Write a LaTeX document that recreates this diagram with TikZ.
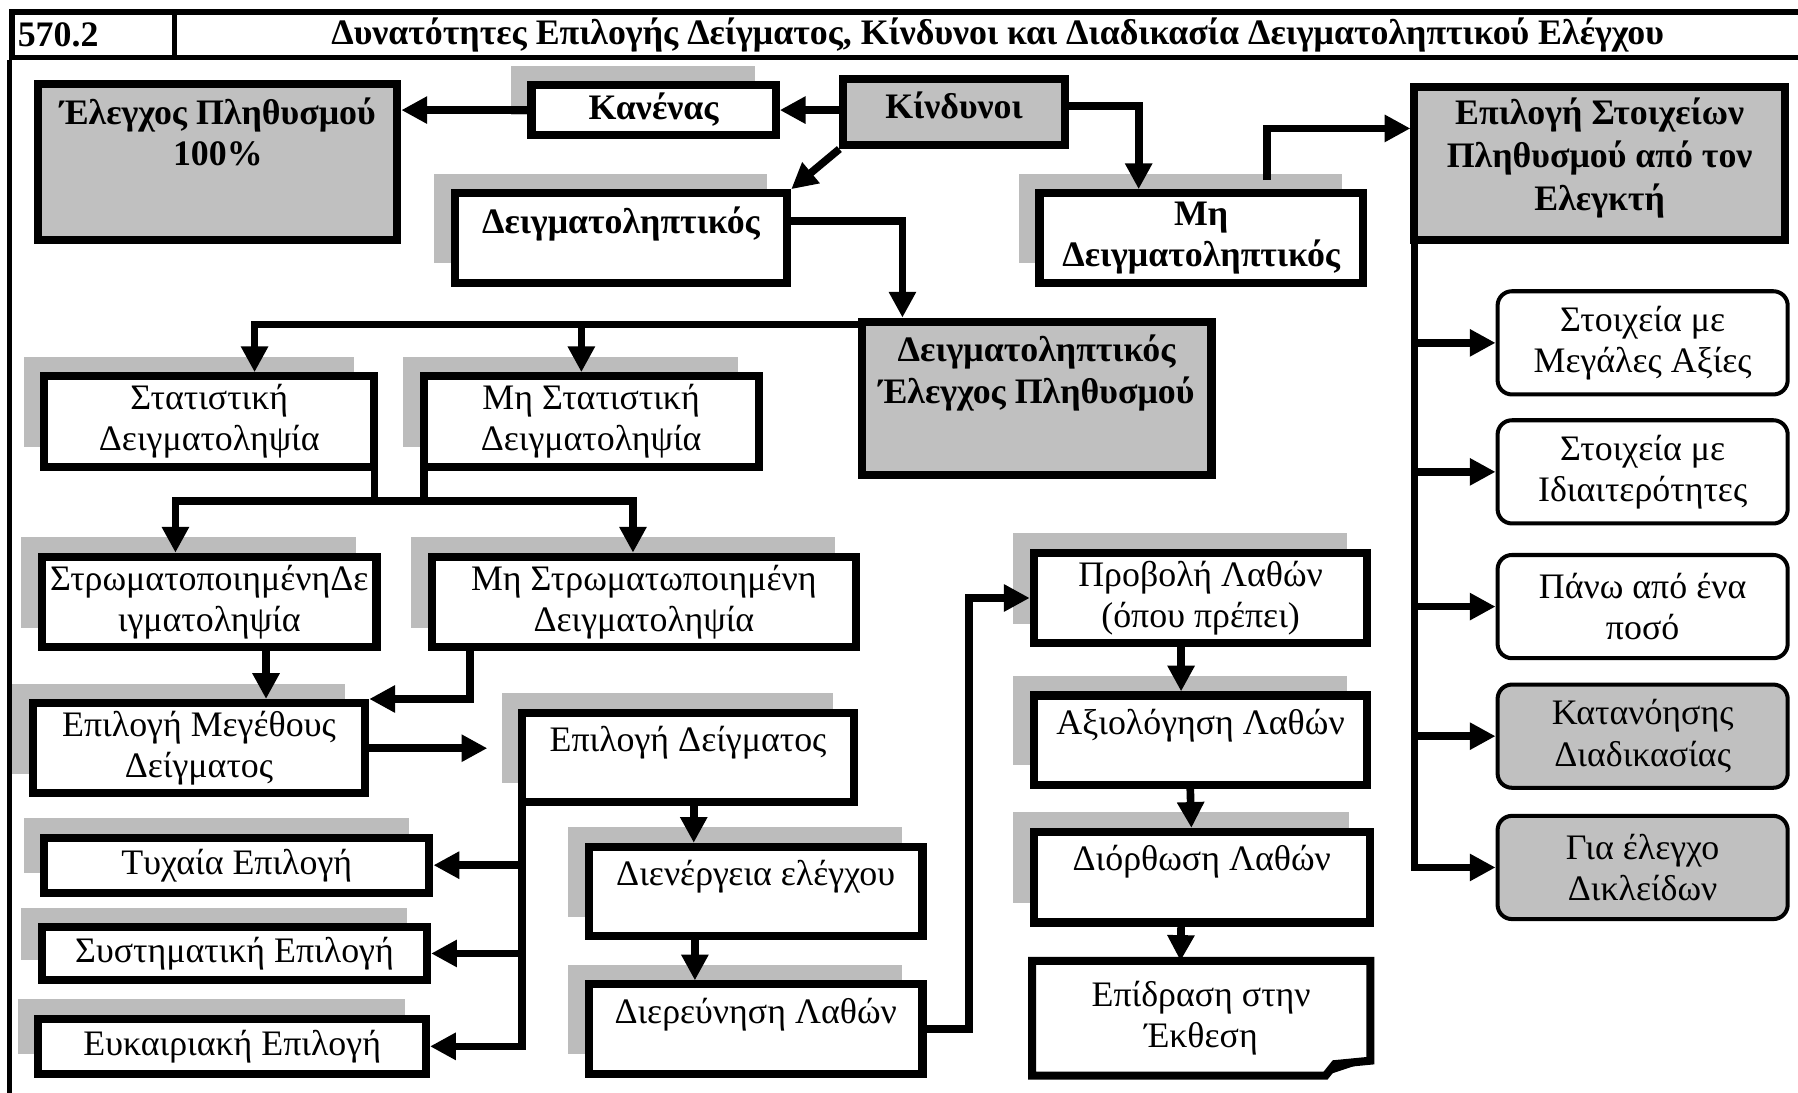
\documentclass[tikz,border=0pt]{standalone}
\usepackage{fontspec}
\setmainfont{Liberation Serif}
\usetikzlibrary{arrows.meta,calc,positioning,shadows}
\definecolor{figFill}{RGB}{192,192,192}
\definecolor{figShade}{RGB}{188,188,188}
\newcommand{\figfont}{\fontsize{17.8}{20.5}\selectfont}

\begin{document}
\begin{tikzpicture}[
  font=\figfont,
  cell/.style={draw=black,line width=2.7pt,inner sep=0pt,font=\fontsize{17.8}{20}\selectfont\bfseries},
  box/.style={draw=black,line width=4pt,fill=white,align=center,inner sep=4pt},
  shadowbox/.style={box,drop shadow={shadow xshift=-0.36cm,shadow yshift=0.34cm,fill=figShade,opacity=1}},
  greybox/.style={box,fill=figFill},
  boldtext/.style={font=\figfont\bfseries},
  lbl/.style={anchor=north,align=center,inner sep=0pt,yshift=-0.3cm},
  toplbl/.style={label={[lbl]north:#1}},
  boldlbl/.style={label={[lbl,font=\figfont\bfseries]north:#1}},
  roundbox/.style={draw=black,line width=2pt,rounded corners=0.25cm,fill=white,align=center,minimum width=5.06cm,minimum height=1.80cm},
  docbox/.style={align=center,outer sep=0pt,inner sep=4pt},
  boxline/.style={draw=black,line width=4pt,line join=miter},
  arrow/.style={-{Triangle[length=0.45cm,width=0.45cm]},line width=3.8pt},
  bus/.style={line width=3.8pt},
  frame/.style={line width=2.7pt}
]
\useasboundingbox (0,0) rectangle (31.36,-19.06);
\clip (0,0) rectangle (31.36,-19.06);

% header
\node[cell,minimum width=2.83cm,minimum height=0.79cm,text width=2.63cm,align=left,inner xsep=0.1cm] (code) at (1.625,-0.605) {570.2};
\node[cell,minimum width=28.72cm,minimum height=0.79cm] (title) at (17.40,-0.605) {Δυνατότητες Επιλογής Δείγματος, Κίνδυνοι και Διαδικασία Δειγματοληπτικού Ελέγχου};
\coordinate (framefoot) at (0.21,-19.3);
\draw[frame] (code.south west) -- (code.south west |- framefoot);

% risk branch
\node[greybox,minimum width=6.26cm,minimum height=2.72cm,boldlbl={Έλεγχος Πληθυσμού\\100\%}] (full) at (3.80,-2.83) {};
\node[shadowbox,boldtext,minimum width=4.26cm,minimum height=0.82cm] (none) at (11.40,-1.92) {Κανένας};
\node[greybox,minimum width=3.86cm,minimum height=1.16cm,boldlbl={Κίνδυνοι}] (risks) at (16.64,-1.95) {};
\node[shadowbox,minimum width=5.80cm,minimum height=1.56cm,boldlbl={Δειγματοληπτικός}] (samp) at (10.83,-4.15) {};
\node[shadowbox,boldtext,minimum width=5.64cm,minimum height=1.56cm] (nonsamp) at (20.95,-4.15) {Μη\\Δειγματοληπτικός};
\node[greybox,minimum width=6.46cm,minimum height=2.68cm,
  label={[lbl,yshift=0.04cm,font=\fontsize{17.8}{21.4}\selectfont\bfseries]north:Επιλογή Στοιχείων\\Πληθυσμού από τον\\Ελεγκτή}] (items) at (27.90,-2.85) {};
\node[greybox,minimum width=6.10cm,minimum height=2.68cm,boldlbl={Δειγματοληπτικός\\Έλεγχος Πληθυσμού}] (popsamp) at (18.08,-6.95) {};

% sampling methods
\node[shadowbox,minimum width=5.76cm,minimum height=1.56cm] (stat) at (3.65,-7.35) {Στατιστική\\Δειγματοληψία};
\node[shadowbox,minimum width=5.84cm,minimum height=1.56cm] (nonstat) at (10.31,-7.35) {Μη Στατιστική\\Δειγματοληψία};
\node[shadowbox,minimum width=5.76cm,minimum height=1.58cm] (strat) at (3.65,-10.50) {ΣτρωματοποιημένηΔε\\ιγματοληψία};
\node[shadowbox,minimum width=7.40cm,minimum height=1.58cm] (nonstrat) at (11.23,-10.50) {Μη Στρωματωποιημένη\\Δειγματοληψία};
\node[shadowbox,minimum width=5.80cm,minimum height=1.56cm] (size) at (3.47,-13.05) {Επιλογή Μεγέθους\\Δείγματος};
\node[shadowbox,minimum width=5.78cm,minimum height=1.56cm,toplbl={Επιλογή Δείγματος}] (pick) at (12.00,-13.21) {};
\node[shadowbox,minimum width=6.72cm,minimum height=0.96cm] (random) at (4.13,-15.09) {Τυχαία Επιλογή};
\node[shadowbox,minimum width=6.72cm,minimum height=0.92cm] (system) at (4.09,-16.63) {Συστηματική Επιλογή};
\node[shadowbox,minimum width=6.76cm,minimum height=0.96cm] (haphazard) at (4.05,-18.25) {Ευκαιριακή Επιλογή};

% testing and errors
\node[shadowbox,minimum width=5.82cm,minimum height=1.56cm,toplbl={Διενέργεια ελέγχου}] (perform) at (13.18,-15.55) {};
\node[shadowbox,minimum width=5.82cm,minimum height=1.56cm,toplbl={Διερεύνηση Λαθών}] (investigate) at (13.18,-17.95) {};
\node[shadowbox,minimum width=5.82cm,minimum height=1.56cm] (project) at (20.94,-10.43) {Προβολή Λαθών\\(όπου πρέπει)};
\node[shadowbox,minimum width=5.82cm,minimum height=1.56cm,toplbl={Αξιολόγηση Λαθών}] (evaluate) at (20.94,-12.91) {};
\node[shadowbox,minimum width=5.86cm,minimum height=1.58cm,toplbl={Διόρθωση Λαθών}] (correct) at (20.96,-15.30) {};
\node[docbox,minimum width=5.90cm,minimum height=2.00cm] (effect) at (20.95,-17.76) {Επίδραση στην\\Έκθεση};
\draw[boxline] (effect.north west) -- (effect.north east) -- ([yshift=0.26cm]effect.south east)
  -- ([xshift=-0.62cm,yshift=0.2cm]effect.south east) -- ([xshift=-0.78cm]effect.south east)
  -- (effect.south west) -- cycle;
\fill ([yshift=0.26cm]effect.south east) -- ([xshift=-0.62cm,yshift=0.2cm]effect.south east)
  -- ([xshift=-0.78cm]effect.south east) -- cycle;

% item selection
\node[roundbox] (big) at (28.65,-5.98) {Στοιχεία με\\Μεγάλες Αξίες};
\node[roundbox] (special) at (28.65,-8.23) {Στοιχεία με\\Ιδιαιτερότητες};
\node[roundbox] (above) at (28.65,-10.58) {Πάνω από ένα\\ποσό};
\node[roundbox,fill=figFill] (understand) at (28.65,-12.84) {Κατανόησης\\Διαδικασίας};
\node[roundbox,fill=figFill] (controls) at (28.65,-15.13) {Για έλεγχο\\Δικλείδων};

% connectors
\draw[arrow] (risks.west |- none.east) -- (none.east);
\draw[arrow] (none.west) -- (full.east |- none.west);
\draw[arrow] (risks.south west) -- (samp.north east);
\draw[arrow] ([yshift=0.1cm]risks.east) -| ([xshift=-1.09cm]nonsamp.north);
\draw[arrow] ([xshift=1.15cm,yshift=0.16cm]nonsamp.north) |- ([yshift=0.61cm]items.west);
\draw[arrow] ([yshift=0.29cm]samp.east) -| ([xshift=-2.34cm]popsamp.north);

\coordinate (splitA) at ([yshift=-0.12cm]popsamp.north west);
\draw[arrow] (splitA) -| ([xshift=0.79cm]stat.north);
\draw[arrow] ([xshift=-0.17cm]nonstat.north |- splitA) -- ([xshift=-0.17cm]nonstat.north);

\coordinate (splitB) at (6.95,-8.74);
\draw[bus] ([xshift=-0.07cm]stat.south east) -- ([xshift=-0.07cm]stat.south east |- splitB);
\draw[bus] ([xshift=0.07cm]nonstat.south west) -- ([xshift=0.07cm]nonstat.south west |- splitB);
\draw[arrow] (splitB) -| ([xshift=-0.59cm]strat.north);
\draw[arrow] (splitB) -| ([xshift=-0.19cm]nonstrat.north);

\draw[arrow] ([xshift=0.99cm]strat.south) -- ([xshift=0.99cm]strat.south |- size.north);
\draw[arrow] ([xshift=-3.03cm]nonstrat.south) |- (size.north east);
\draw[arrow] (size.east) -- ([xshift=-0.54cm]pick.west |- size.east);

\coordinate (pickfoot) at ([xshift=0.07cm,yshift=0.07cm]pick.south west);
\draw[arrow] (pickfoot |- random.east) -- (random.east);
\draw[arrow] (pickfoot |- system.east) -- (system.east);
\draw[arrow] (pickfoot) |- (haphazard.east);

\draw[arrow] ([xshift=0.10cm]pick.south) -- ([xshift=0.10cm]pick.south |- perform.north);
\draw[arrow] ([xshift=-1.06cm]perform.south) -- ([xshift=-1.06cm]investigate.north);
\draw[arrow] (investigate.east) -- ++(0.74,0) |- (project.west);
\draw[arrow] ([xshift=-0.34cm]project.south) -- ([xshift=-0.34cm]evaluate.north);
\draw[arrow] ([xshift=-0.18cm]evaluate.south) -- ([xshift=-0.18cm]correct.north);
\draw[arrow] ([xshift=-0.36cm]correct.south) -- ([xshift=-0.36cm]effect.north);

\coordinate (itemsfoot) at ([xshift=0.07cm,yshift=0.07cm]items.south west);
\draw[arrow] (itemsfoot |- big.west) -- (big.west);
\draw[arrow] (itemsfoot |- special.west) -- (special.west);
\draw[arrow] (itemsfoot |- above.west) -- (above.west);
\draw[arrow] (itemsfoot |- understand.west) -- (understand.west);
\draw[arrow] (itemsfoot) |- (controls.west);

\end{tikzpicture}
\end{document}
